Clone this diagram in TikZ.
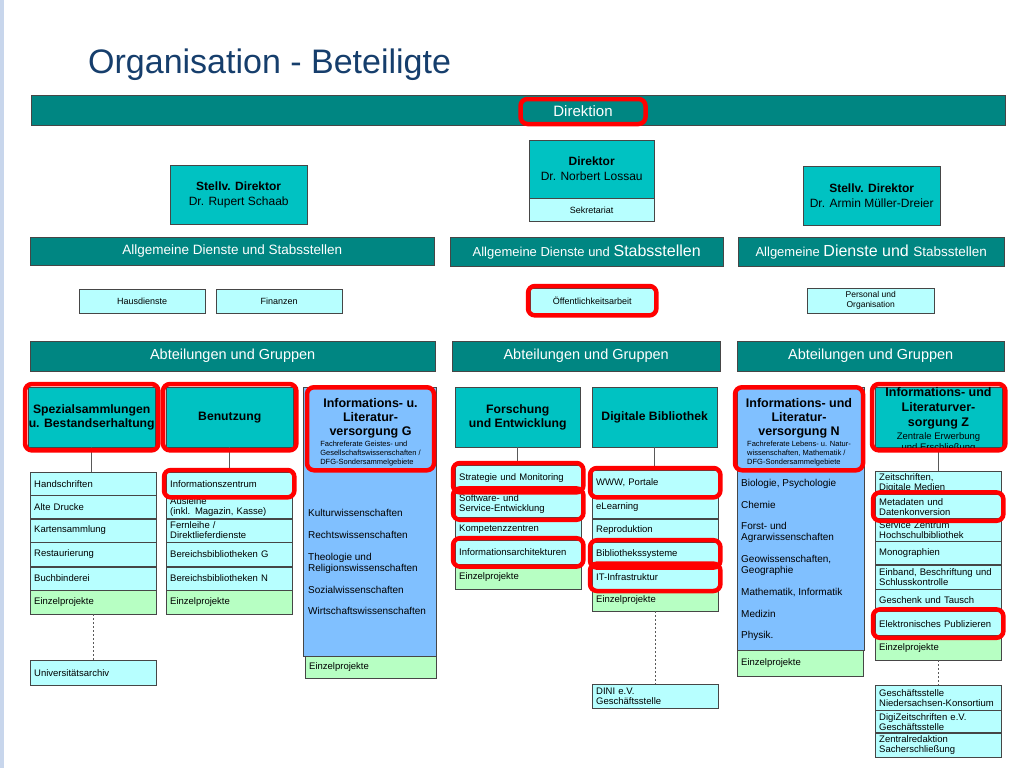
\documentclass[tikz,border=0pt]{standalone}
\usepackage{fontspec}
\setmainfont{Liberation Sans}
\usepackage{tikz}
\usetikzlibrary{positioning,fit}

\definecolor{barteal}{RGB}{0,134,130}
\definecolor{headteal}{RGB}{0,194,194}
\definecolor{itemcyan}{RGB}{183,255,255}
\definecolor{projgreen}{RGB}{183,255,195}
\definecolor{fachblue}{RGB}{128,192,255}
\definecolor{titleblue}{RGB}{22,62,108}
\definecolor{stripblue}{RGB}{200,214,236}
\definecolor{rimgray}{RGB}{70,70,70}

\newcommand{\hdline}[1]{{\bfseries\fontsize{12.5}{14}\selectfont #1}}

\tikzset{
  bar/.style={draw=rimgray, fill=barteal, text=white, anchor=north west, inner sep=0pt, font=\fontsize{14.5}{17}\selectfont},
  boss/.style={draw=rimgray, fill=headteal, anchor=north west, align=center, minimum width=137pt, minimum height=59pt, font=\fontsize{12}{15}\selectfont},
  dept/.style={draw=rimgray, fill=headteal, anchor=north west, align=center, minimum width=127pt, minimum height=60pt, inner sep=0pt, font=\bfseries\fontsize{12.2}{14.5}\selectfont},
  staff/.style={draw=rimgray, fill=itemcyan, anchor=north west, align=center, minimum width=126pt, minimum height=24pt, inner sep=0pt, font=\fontsize{9}{10.5}\selectfont},
  item/.style={draw=rimgray, fill=itemcyan, anchor=north west, align=left, text width=118pt, inner xsep=4pt, inner ysep=0.5pt, font=\fontsize{9.5}{10}\selectfont},
  proj/.style={item, fill=projgreen},
  ht/.style={minimum height=#1pt},
  fach/.style={draw=rimgray, fill=fachblue, anchor=north west, inner sep=0pt},
  fachtext/.style={anchor=west, align=left, inner sep=0pt, font=\fontsize{10}{11}\selectfont},
  redmark/.style={draw=red, line width=4.5pt, rounded corners=7pt, inner sep=2pt},
  link/.style={draw=gray!70!black, line width=0.8pt},
}

\begin{document}
\begin{tikzpicture}[x=1pt, y=-1pt]
  \useasboundingbox (0,0) rectangle (1024,768);
  \fill[white] (0,0) rectangle (1024,768);
  \fill[stripblue] (0,0) rectangle (4,768);

  \node[anchor=base west, inner sep=0pt, text=titleblue, font=\fontsize{34}{40}\selectfont] (title) at (88,73) {Organisation - Beteiligte};

  % Direktion
  \node[bar, minimum width=974pt, minimum height=30pt] (dirbar) at (31,95) {};
  \node[redmark, text=white, minimum width=125pt, minimum height=25pt, font=\fontsize{15}{18}\selectfont] (direktion) at (583,111.5) {Direktion};

  \node[boss, minimum width=125pt, minimum height=58pt] (director) at (529,140) {\textbf{Direktor}\\Dr. Norbert Lossau};
  \node[staff, minimum width=125pt, minimum height=23pt, below=0pt of director] (sekretariat) {Sekretariat};
  \node[boss] (schaab) at (170,165) {\textbf{Stellv. Direktor}\\Dr. Rupert Schaab};
  \node[boss] (mueller) at (803,166) {\textbf{Stellv. Direktor}\\Dr. Armin Müller-Dreier};

  % Allgemeine Dienste
  \node[bar, minimum width=404pt, minimum height=28pt, font=\fontsize{13.5}{16}\selectfont] (dienstL) at (30,237) {Allgemeine Dienste und Stabsstellen};
  \node[bar, minimum width=273pt, minimum height=29pt] (dienstM) at (450,237) {{\fontsize{13}{16}\selectfont Allgemeine Dienste und }{\fontsize{16}{18}\selectfont Stabsstellen}};
  \node[bar, minimum width=266pt, minimum height=29pt] (dienstR) at (738,237) {{\fontsize{13}{16}\selectfont Allgemeine }{\fontsize{16}{18}\selectfont Dienste und }{\fontsize{13.5}{16}\selectfont Stabsstellen}};

  \node[staff] (haus) at (79,289) {Hausdienste};
  \node[staff] (finanzen) at (216,289) {Finanzen};
  \node[staff, minimum width=124pt, minimum height=25pt] (oeff) at (530,288) {Öffentlichkeitsarbeit};
  \node[staff, minimum width=127pt, minimum height=25pt, font=\fontsize{8.5}{10}\selectfont] (personal) at (807,288) {Personal und\\Organisation};

  % Abteilungen und Gruppen
  \node[bar, minimum width=405pt, minimum height=30pt] (abtL) at (30,341) {Abteilungen und Gruppen};
  \node[bar, minimum width=268pt, minimum height=30pt] (abtM) at (452,341) {Abteilungen und Gruppen};
  \node[bar, minimum width=267pt, minimum height=30pt] (abtR) at (737,341) {Abteilungen und Gruppen};

  \node[dept] (spez) at (28,387) {Spezialsammlungen\\u. Bestandserhaltung};
  \node[dept] (benutzung) at (166,387) {Benutzung};
  \node[dept, minimum width=125pt] (fe) at (455,387) {Forschung\\und Entwicklung};
  \node[dept, minimum width=125pt] (digbib) at (592,387) {Digitale Bibliothek};
  \node[dept] (infoZ) at (875,387) {};
  \node[align=center, inner sep=0pt, font=\fontsize{9.5}{11}\selectfont] (infoZtext) at (938.5,420) {\hdline{Informations- und}\\[4pt]\hdline{Literaturver-}\\[4pt]\hdline{sorgung Z}\\[2pt]Zentrale Erwerbung\\und Erschließung};

  % Fachreferate G
  \node[fach, minimum width=133pt, minimum height=269pt] (infoG) at (303,387) {};
  \node[redmark, anchor=north, minimum width=127pt, minimum height=83pt, inner sep=0pt, align=center, font=\bfseries\fontsize{12.5}{14}\selectfont] (infoGhead) at (370.5,385) {\rule{0pt}{17pt}Informations- u.\\Literatur-\\versorgung G\\[-3pt]{\mdseries\fontsize{7.5}{9}\selectfont\begin{tabular}[t]{@{}l@{}}Fachreferate Geistes- und\\Gesellschaftswissenschaften /\\DFG-Sondersammelgebiete\end{tabular}}};
  \node[fachtext] (kultur) at (308,513) {Kulturwissenschaften};
  \node[fachtext] (recht) at (308,535) {Rechtswissenschaften};
  \node[fachtext] (theo) at (308,563) {Theologie und\\Religionswissenschaften};
  \node[fachtext] (sozial) at (308,590) {Sozialwissenschaften};
  \node[fachtext] (wirt) at (308,611) {Wirtschaftswissenschaften};
  \node[proj, text width=123pt, ht=22] (projG) at (305,656) {Einzelprojekte};

  % Fachreferate N
  \node[fach, minimum width=127pt, minimum height=263pt] (infoN) at (737,387) {};
  \node[redmark, anchor=north, minimum width=128pt, minimum height=83pt, inner sep=0pt, align=center, font=\bfseries\fontsize{12.5}{14}\selectfont] (infoNhead) at (799,385) {\rule{0pt}{17pt}Informations- und\\Literatur-\\versorgung N\\[-3pt]{\mdseries\fontsize{7.5}{9}\selectfont\begin{tabular}[t]{@{}l@{}}Fachreferate Lebens- u. Natur-\\wissenschaften, Mathematik /\\DFG-Sondersammelgebiete\end{tabular}}};
  \node[fachtext] (bio) at (741,484) {Biologie, Psychologie};
  \node[fachtext] (chemie) at (741,505) {Chemie};
  \node[fachtext] (forst) at (741,532.5) {Forst- und\\Agrarwissenschaften};
  \node[fachtext] (geo) at (741,565.5) {Geowissenschaften,\\Geographie};
  \node[fachtext] (mathe) at (741,593) {Mathematik, Informatik};
  \node[fachtext] (medizin) at (741,614) {Medizin};
  \node[fachtext] (physik) at (741,636) {Physik.};
  \node[proj, ht=26] (projN) at (737,650) {Einzelprojekte};

  % Spezialsammlungen
  \node[item, ht=23] (hand) at (30,472) {Handschriften};
  \node[item, ht=23, below=0pt of hand] (alte) {Alte Drucke};
  \node[item, ht=23, below=0pt of alte] (karten) {Kartensammlung};
  \node[item, ht=24, below=0pt of karten] (restaur) {Restaurierung};
  \node[item, ht=23, below=0pt of restaur] (buch) {Buchbinderei};
  \node[proj, ht=24, below=0pt of buch] (projS) {Einzelprojekte};
  \node[item, ht=25] (uniarchiv) at (30,660) {Universitätsarchiv};

  % Benutzung
  \node[item, ht=23] (infozentrum) at (166,472) {Informationszentrum};
  \node[item, ht=23, below=0pt of infozentrum] (ausleihe) {Ausleihe\\(inkl. Magazin, Kasse)};
  \node[item, ht=23, below=0pt of ausleihe] (fernleihe) {Fernleihe /\\Direktlieferdienste};
  \node[item, ht=24, below=0pt of fernleihe] (bereichG) {Bereichsbibliotheken G};
  \node[item, ht=23, below=0pt of bereichG] (bereichN) {Bereichsbibliotheken N};
  \node[proj, ht=24, below=0pt of bereichN] (projB) {Einzelprojekte};

  % Forschung und Entwicklung
  \node[item, ht=25] (strat) at (455,465) {Strategie und Monitoring};
  \node[item, ht=27, below=0pt of strat] (soft) {Software- und\\Service-Entwicklung};
  \node[item, ht=22, below=0pt of soft] (kompz) {Kompetenzzentren};
  \node[item, ht=24, below=0pt of kompz] (iarch) {Informationsarchitekturen};
  \node[proj, ht=24, below=0pt of iarch] (projF) {Einzelprojekte};

  % Digitale Bibliothek
  \node[item, ht=25] (www) at (592,470) {WWW, Portale};
  \node[item, ht=23, below=0pt of www] (elearn) {eLearning};
  \node[item, ht=23, below=0pt of elearn] (repro) {Reproduktion};
  \node[item, ht=23, below=0pt of repro] (bibsys) {Bibliothekssysteme};
  \node[item, ht=23, below=0pt of bibsys] (itinfra) {IT-Infrastruktur};
  \node[proj, ht=22, below=0pt of itinfra] (projD) {Einzelprojekte};
  \node[item, ht=24] (dini) at (592,684) {DINI e.V.\\Geschäftsstelle};

  % Zentrale Erwerbung
  \node[item, ht=23] (zeit) at (875,471) {Zeitschriften,\\Digitale Medien};
  \node[item, ht=24, below=0pt of zeit] (meta) {Metadaten und\\Datenkonversion};
  \node[item, ht=22, below=0pt of meta] (service) {Service Zentrum\\Hochschulbibliothek};
  \node[item, ht=23, below=0pt of service] (mono) {Monographien};
  \node[item, ht=24, below=0pt of mono] (einband) {Einband, Beschriftung und\\Schlusskontrolle};
  \node[item, ht=22, below=0pt of einband] (geschenk) {Geschenk und Tausch};
  \node[item, ht=24, below=0pt of geschenk] (elpub) {Elektronisches Publizieren};
  \node[proj, ht=24, below=0pt of elpub] (projZ) {Einzelprojekte};
  \node[item, ht=25] (nds) at (875,685) {Geschäftsstelle\\Niedersachsen-Konsortium};
  \node[item, ht=22, below=0pt of nds] (digiz) {DigiZeitschriften e.V.\\Geschäftsstelle};
  \node[item, ht=24, below=0pt of digiz] (zentral) {Zentralredaktion\\Sacherschließung};

  % Verbindungen
  \draw[link] (spez.south) -- (spez.south |- hand.north);
  \draw[link] (benutzung.south) -- (benutzung.south |- infozentrum.north);
  \draw[link] (fe.south) -- (fe.south |- strat.north);
  \draw[link] (digbib.south) -- (digbib.south |- www.north);
  \draw[link] (infoZ.south) -- (infoZ.south |- zeit.north);
  \draw[link, dash pattern=on 2pt off 2pt] (projS.south) -- (uniarchiv.north);
  \draw[link, dash pattern=on 2pt off 2pt] (projD.south) -- (dini.north);
  \draw[link, dash pattern=on 2pt off 2pt] (projZ.south) -- (nds.north);

  % Markierungen
  \node[redmark, fit=(oeff)] (oeffmark) {};
  \node[redmark, inner sep=3pt, fit=(spez)] (spezmark) {};
  \node[redmark, inner sep=3pt, fit=(benutzung)] (benutzungmark) {};
  \node[redmark, inner sep=3pt, fit=(infoZ)] (infoZmark) {};
  \node[redmark, fit=(infozentrum)] (infozentrummark) {};
  \node[redmark, fit=(strat)] (stratmark) {};
  \node[redmark, fit=(soft)] (softmark) {};
  \node[redmark, fit=(iarch)] (iarchmark) {};
  \node[redmark, fit=(www)] (wwwmark) {};
  \node[redmark, fit=(bibsys)] (bibsysmark) {};
  \node[redmark, fit=(itinfra)] (itinframark) {};
  \node[redmark, fit=(meta)] (metamark) {};
  \node[redmark, fit=(elpub)] (elpubmark) {};
\end{tikzpicture}
\end{document}
